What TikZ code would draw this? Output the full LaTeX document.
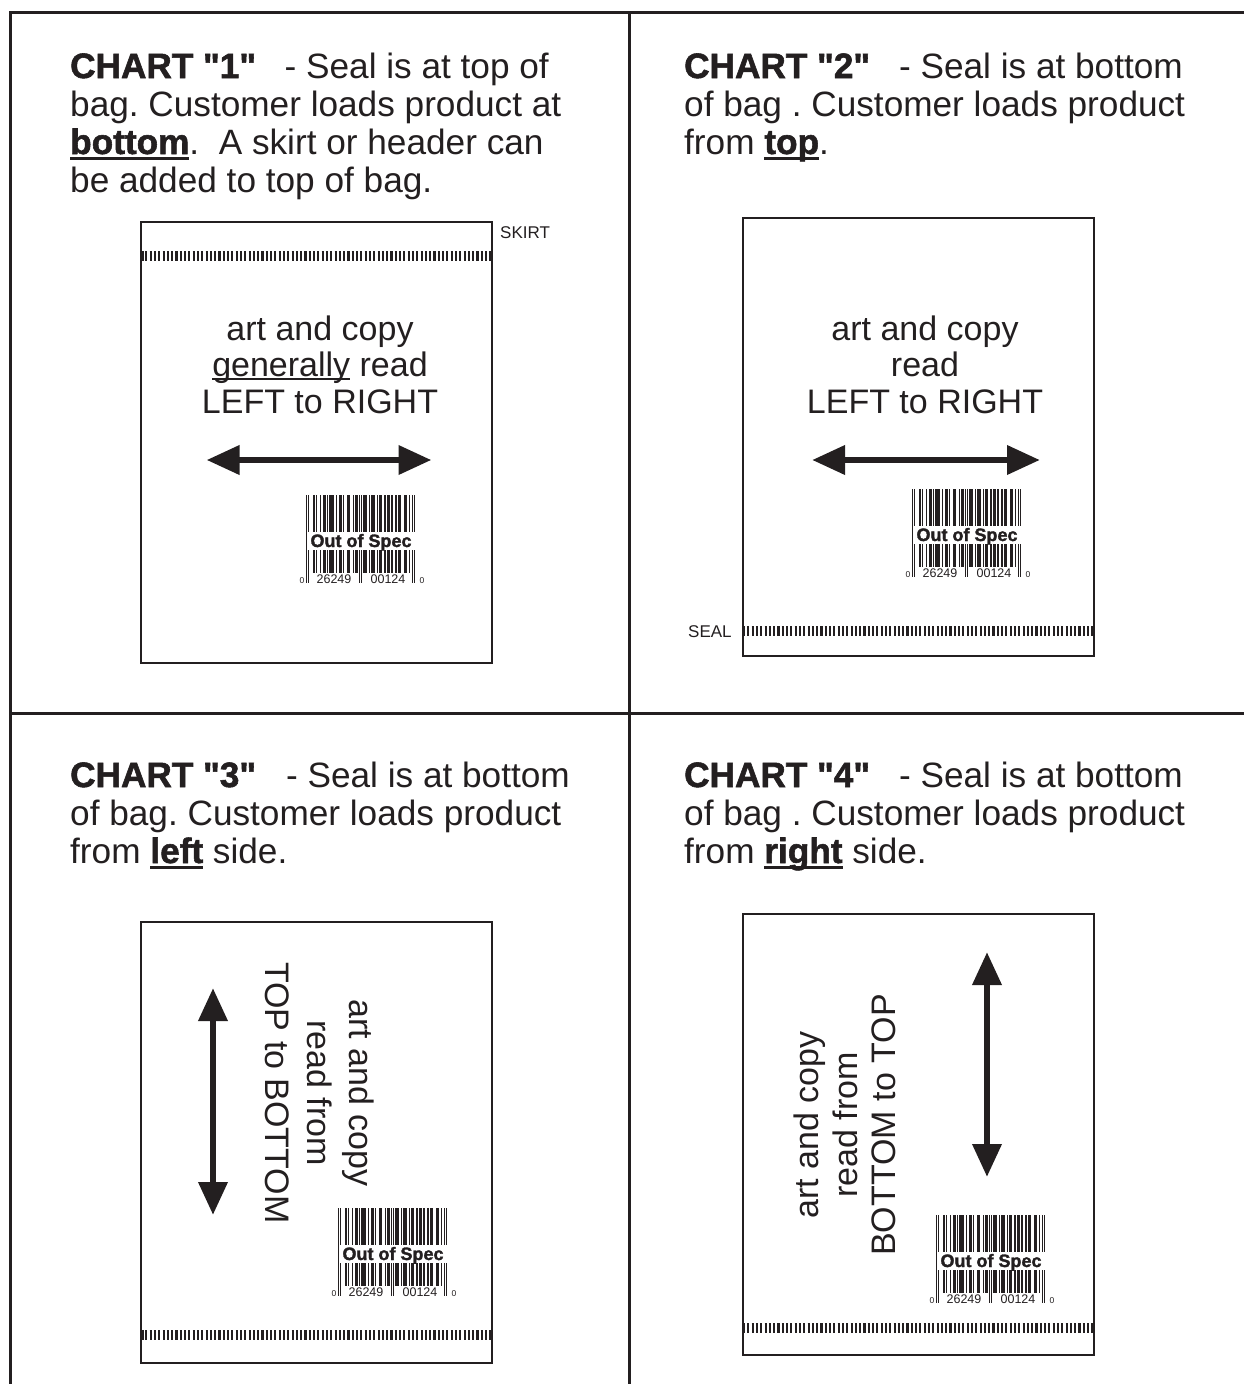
\documentclass[tikz,border=0pt]{standalone}
\usepackage{fontspec}
\setmainfont{Liberation Sans}[BoldFeatures={FakeBold=1.6}]
\usetikzlibrary{arrows.meta}
\definecolor{ink}{HTML}{231F20}
\frenchspacing
\newcommand\dq{\XeTeXglyph\XeTeXcharglyph"22\relax}
\newcommand\ulthick[1]{\setbox0\hbox{#1}\rlap{\rule[-6.2pt]{\wd0}{2.8pt}}\box0\relax}
\newcommand\ulthin[1]{\setbox0\hbox{#1}\rlap{\rule[-3.5pt]{\wd0}{1.8pt}}\box0\relax}
\tikzset{
  frameline/.style={draw=ink, line width=3pt},
  bagbox/.style={draw=ink, line width=2.6pt},
  sealline/.style={draw=ink, line width=9.5pt, dash pattern=on 2.1pt off 2.2pt},
  ttl/.style={anchor=base west, inner sep=0pt, text=ink, font=\fontsize{35.2}{38}\selectfont},
  ttr/.style={anchor=base east, inner sep=0pt, text=ink, font=\fontsize{35.2}{38}\selectfont},
  bagtxt/.style={anchor=base, inner sep=0pt, text=ink, font=\fontsize{34}{36}\selectfont},
  lbl/.style={anchor=base west, inner sep=0pt, text=ink, font=\fontsize{17}{18}\selectfont},
  fatarrow/.style={draw=ink, line width=6.7pt, {Triangle[length=33pt,width=28pt]}-{Triangle[length=33pt,width=28pt]}},
  barcode/.pic={
    \foreach \b [count=\i] in {1,0,1,
      0,0,0,1,1,0,1, 0,0,1,0,0,1,1, 0,1,0,1,1,1,1, 0,0,1,0,0,1,1, 0,1,0,0,0,1,1, 0,0,0,1,0,1,1,
      0,1,0,1,0,
      1,1,1,0,0,1,0, 1,1,1,0,0,1,0, 1,1,0,0,1,1,0, 1,1,0,1,1,0,0, 1,0,1,1,1,0,0, 1,1,1,0,0,1,0,
      1,0,1}{
      \ifnum\b=1
        \pgfmathsetmacro\barh{((\i<4) || (\i>92) || ((\i>45) && (\i<51))) ? 88 : 78}
        \fill[ink] ({(\i-1)*1.147},0) rectangle ({\i*1.147},\barh);
      \fi
    }
    \fill[white] (1.3,36.5) rectangle (110,55);
    \node[anchor=base, inner sep=0pt, text=ink, font=\bfseries\fontsize{18}{19}\selectfont] (-oos) at (55,52) {Out of Spec};
    \node[anchor=base, inner sep=0pt, text=ink, font=\fontsize{12.5}{13}\selectfont] (-d1) at (28,88) {26249};
    \node[anchor=base, inner sep=0pt, text=ink, font=\fontsize{12.5}{13}\selectfont] (-d2) at (82,88) {00124};
    \node[anchor=base, inner sep=0pt, text=ink, font=\fontsize{8.5}{9}\selectfont] (-d0) at (-4,88) {0};
    \node[anchor=base, inner sep=0pt, text=ink, font=\fontsize{8.5}{9}\selectfont] (-d3) at (116,88) {0};
  }
}
\begin{document}
\begin{tikzpicture}[x=1pt,y=-1pt]
\useasboundingbox (0,0) rectangle (1244,1384);
% outer frame and dividers
\draw[frameline] (10,1384) -- (10,12) -- (1244,12);
\draw[frameline] (629,12) -- (629,1384);
\draw[frameline] (10,713) -- (1244,713);

% ---------------- CHART 1 ----------------
\node[ttl] (c1a) at (70,78) {\bfseries CHART \dq 1\dq};
\node[ttr] (c1b) at (549,78) {- Seal is at top of};
\node[ttl] (c1c) at (70,116) {bag. Customer loads product at};
\node[ttl] (c1d) at (70,154) {\ulthick{\bfseries bottom}.\ \ A skirt or header can};
\node[ttl] (c1e) at (70,192) {be added to top of bag.};
\draw[bagbox] (141,222) rectangle (492,663);
\draw[sealline] (141,256) -- (492,256);
\fill[ink] (141,251.25) rectangle (144,260.75);
\node[lbl] (skirt) at (500,238) {SKIRT};
\node[bagtxt] (t1a) at (320,340) {art and copy};
\node[bagtxt] (t1b) at (320,376.5) {\ulthin{generally} read};
\node[bagtxt] (t1c) at (320,413) {LEFT to RIGHT};
\coordinate (a1l) at (206.5,460);
\coordinate (a1r) at (431.5,460);
\draw[fatarrow] (a1l) -- (a1r);
\pic (bc1) at (306,495) {barcode};

% ---------------- CHART 2 ----------------
\node[ttl] (c2a) at (684,78) {\bfseries CHART \dq 2\dq};
\node[ttr] (c2b) at (1183,78) {- Seal is at bottom};
\node[ttl] (c2c) at (684,116) {of bag . Customer loads product};
\node[ttl] (c2d) at (684,154) {from \ulthick{\bfseries top}.};
\draw[bagbox] (743,218) rectangle (1094,656);
\draw[sealline] (743,631) -- (1094,631);
\fill[ink] (1091,626.25) rectangle (1094,635.75);
\node[lbl] (seal) at (688,637) {SEAL};
\node[bagtxt] (t2a) at (925,340) {art and copy};
\node[bagtxt] (t2b) at (925,376.5) {read};
\node[bagtxt] (t2c) at (925,413) {LEFT to RIGHT};
\coordinate (a2l) at (812,460);
\coordinate (a2r) at (1040,460);
\draw[fatarrow] (a2l) -- (a2r);
\pic (bc2) at (912,489) {barcode};

% ---------------- CHART 3 ----------------
\node[ttl] (c3a) at (70,787) {\bfseries CHART \dq 3\dq};
\node[ttr] (c3b) at (570,787) {- Seal is at bottom};
\node[ttl] (c3c) at (70,825) {of bag. Customer loads product};
\node[ttl] (c3d) at (70,863) {from \ulthick{\bfseries left} side.};
\draw[bagbox] (141,922) rectangle (492,1363);
\draw[sealline] (141,1335) -- (492,1335);
\fill[ink] (141,1330.25) rectangle (144,1339.75);
\node[bagtxt, rotate=-90] (t3a) at (349,1093) {art and copy};
\node[bagtxt, rotate=-90] (t3b) at (307,1093) {read from};
\node[bagtxt, rotate=-90] (t3c) at (265,1093) {TOP to BOTTOM};
\coordinate (a3t) at (213,988);
\coordinate (a3b) at (213,1215);
\draw[fatarrow] (a3t) -- (a3b);
\pic (bc3) at (338,1208) {barcode};

% ---------------- CHART 4 ----------------
\node[ttl] (c4a) at (684,787) {\bfseries CHART \dq 4\dq};
\node[ttr] (c4b) at (1183,787) {- Seal is at bottom};
\node[ttl] (c4c) at (684,825) {of bag . Customer loads product};
\node[ttl] (c4d) at (684,863) {from \ulthick{\bfseries right} side.};
\draw[bagbox] (743,914) rectangle (1094,1355);
\draw[sealline] (743,1328) -- (1094,1328);
\fill[ink] (1091,1323.25) rectangle (1094,1332.75);
\node[bagtxt, rotate=90] (t4a) at (818,1125) {art and copy};
\node[bagtxt, rotate=90] (t4b) at (857,1125) {read from};
\node[bagtxt, rotate=90] (t4c) at (895,1125) {BOTTOM to TOP};
\coordinate (a4t) at (987,952);
\coordinate (a4b) at (987,1177);
\draw[fatarrow] (a4t) -- (a4b);
\pic (bc4) at (936,1215) {barcode};
\end{tikzpicture}
\end{document}
